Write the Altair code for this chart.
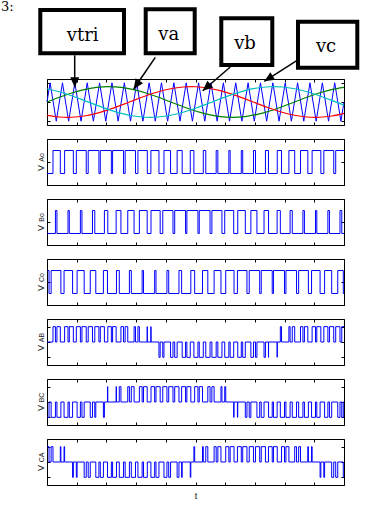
import altair as alt
import pandas as pd

# ---------------- data (time in carrier periods; window = 24 carrier periods = 20 ms) ----------------
T_MS = 20 / 24

# triangle carrier vertices
tri_t = [0, 0.25, 0.75, 1.25, 1.75, 2.25, 2.75, 3.25, 3.75, 4.25, 4.75, 5.25, 5.75, 6.25, 6.75,
         7.25, 7.75, 8.25, 8.75, 9.25, 9.75, 10.25, 10.75, 11.25, 11.75, 12.25, 12.75, 13.25, 13.75,
         14.25, 14.75, 15.25, 15.75, 16.25, 16.75, 17.25, 17.75, 18.25, 18.75, 19.25, 19.75, 20.25,
         20.75, 21.25, 21.75, 22.25, 22.75, 23.25, 23.75, 24]
tri_v = [0, 1, -1, 1, -1, 1, -1, 1, -1, 1, -1, 1, -1, 1, -1, 1, -1, 1, -1, 1, -1, 1, -1, 1, -1,
         1, -1, 1, -1, 1, -1, 1, -1, 1, -1, 1, -1, 1, -1, 1, -1, 1, -1, 1, -1, 1, -1, 1, -1, 0]

# reference sine samples
ref_t = [0, 1, 2, 3, 4, 5, 6, 7, 8, 9, 10, 11, 12, 13, 14, 15, 16, 17, 18, 19, 20, 21, 22, 23, 24]
va = [0, 0.247, 0.470, 0.647, 0.761, 0.8, 0.761, 0.647, 0.470, 0.247, 0, -0.247, -0.470, -0.647,
      -0.761, -0.8, -0.761, -0.647, -0.470, -0.247, 0, 0.247, 0.470, 0.647, 0.761]
vb = [-0.693, -0.782, -0.796, -0.731, -0.594, -0.4, -0.166, 0.084, 0.325, 0.535, 0.693, 0.782,
      0.796, 0.731, 0.594, 0.4, 0.166, -0.084, -0.325, -0.535, -0.693, -0.782, -0.796, -0.731, -0.594]
vc = [0.693, 0.535, 0.325, 0.084, -0.166, -0.4, -0.594, -0.731, -0.796, -0.782, -0.693, -0.535,
      -0.325, -0.084, 0.166, 0.4, 0.594, 0.731, 0.796, 0.782, 0.693, 0.535, 0.325, 0.084, -0.166]

# leg voltage low intervals (start / end)
A_low_start = [0.000, 1.077, 2.130, 3.171, 4.195, 5.200, 6.185, 7.152, 8.105, 9.047, 9.984, 10.924,
               11.870, 12.830, 13.806, 14.801, 15.815, 16.848, 17.896, 18.953, 20.016, 21.077, 22.130, 23.171]
A_low_end = [0.484, 1.424, 2.370, 3.330, 4.306, 5.301, 6.315, 7.348, 8.396, 9.453, 10.516, 11.577,
             12.630, 13.671, 14.695, 15.700, 16.685, 17.652, 18.605, 19.547, 20.484, 21.424, 22.370, 23.330]
B_low_start = [0.000, 0.802, 1.803, 2.824, 3.862, 4.914, 5.974, 7.037, 8.096, 9.145, 10.181, 11.198,
               12.197, 13.176, 14.138, 15.086, 16.026, 16.964, 17.905, 18.855, 19.820, 20.802, 21.803,
               22.824, 23.820]
B_low_end = [0.681, 1.698, 2.697, 3.676, 4.638, 5.586, 6.526, 7.464, 8.405, 9.355, 10.320, 11.302,
             12.303, 13.324, 14.362, 15.414, 16.474, 17.537, 18.596, 19.645, 20.681, 21.698, 22.697,
             23.676, 24.0]
C_low_start = [0.165, 1.122, 2.067, 3.005, 3.943, 4.887, 5.841, 6.812, 7.800, 8.808, 9.835, 10.878,
               11.933, 12.995, 14.057, 15.113, 16.159, 17.189, 18.200, 19.192, 20.165, 21.122, 22.067,
               23.005, 23.943]
C_low_end = [0.335, 1.378, 2.433, 3.495, 4.557, 5.613, 6.659, 7.689, 8.700, 9.692, 10.665, 11.622,
             12.567, 13.505, 14.443, 15.387, 16.341, 17.312, 18.300, 19.308, 20.335, 21.378, 22.433,
             23.495, 24.0]

panel_names = ["Ao", "Bo", "Co", "AB", "BC", "CA"]
ann_labels = ["vtri", "va", "vb", "vc"]

HIGH, LOW, TEND = 0.5, -0.5, 24.0
A = (A_low_start, A_low_end)
B = (B_low_start, B_low_end)
C = (C_low_start, C_low_end)


def level(leg, t):
    for s, e in zip(*leg):
        if s <= t < e:
            return LOW
    return HIGH


def edges(*legs):
    ts = {0.0}
    for leg in legs:
        for x in leg[0] + leg[1]:
            if 0 <= x < TEND:
                ts.add(float(x))
    return sorted(ts)


def steps(fn, *legs):
    ts = edges(*legs)
    rows = [(t, fn(t)) for t in ts]
    rows.append((TEND, rows[-1][1]))
    return pd.DataFrame({"t": [r[0] * T_MS for r in rows], "v": [r[1] for r in rows]})


df_A = steps(lambda t: level(A, t), A)
df_B = steps(lambda t: level(B, t), B)
df_C = steps(lambda t: level(C, t), C)
df_AB = steps(lambda t: level(A, t) - level(B, t), A, B)
df_BC = steps(lambda t: level(B, t) - level(C, t), B, C)
df_CA = steps(lambda t: level(C, t) - level(A, t), C, A)

df_tri = pd.DataFrame({"t": [x * T_MS for x in tri_t], "v": tri_v})
df_ref = pd.DataFrame({
    "t": [x * T_MS for x in ref_t] * 3,
    "v": va + vb + vc,
    "s": ["va"] * len(va) + ["vb"] * len(vb) + ["vc"] * len(vc),
})

# ---------------- styling ----------------
W, H = 297, 46
XDOM = [0, 20]
xticks = [0, 2, 4, 6, 8, 10, 12, 14, 16, 18, 20]
BLUE = "#0000ff"
SANS = "Liberation Sans"
SERIF = "DejaVu Serif"


def tick_axis(orient, values):
    return alt.Axis(orient=orient, values=values, labels=False, domain=False, grid=False,
                    ticks=True, tickSize=3, offset=-3, tickColor="black", tickWidth=1)


def xenc(orient, title=None):
    return alt.X("t:Q", scale=alt.Scale(domain=XDOM, nice=False, zero=False),
                 axis=tick_axis(orient, xticks), title=title)


def yenc(orient, ydom, yticks):
    return alt.Y("v:Q", scale=alt.Scale(domain=ydom, nice=False, zero=False),
                 axis=tick_axis(orient, yticks), title=None)


def ylabel(sub):
    v = alt.Chart(pd.DataFrame({"s": ["V"]})).mark_text(
        angle=270, fontSize=9, font=SANS, color="#222222").encode(
        x=alt.value(-6.5), y=alt.value(29), text="s:N")
    s = alt.Chart(pd.DataFrame({"s": [sub]})).mark_text(
        angle=270, fontSize=7, font=SANS, color="#222222").encode(
        x=alt.value(-5.0), y=alt.value(18.5), text="s:N")
    return [v, s]


def pwm_panel(df, ydom, yticks, sub, xtitle=None):
    line = alt.Chart(df).mark_line(interpolate="step-after", color=BLUE, strokeWidth=1).encode(
        x=xenc("bottom", xtitle), y=yenc("left", ydom, yticks))
    ghost = alt.Chart(df).mark_line(opacity=0).encode(
        x=xenc("top"), y=yenc("right", ydom, yticks))
    return alt.layer(line, ghost, *ylabel(sub)).resolve_scale(
        x="independent", y="independent").properties(width=W, height=H)


# ---------------- top panel with annotations ----------------
TOPDOM = [-1.2, 1.2]
tri_layer = alt.Chart(df_tri).mark_line(color=BLUE, strokeWidth=1).encode(
    x=xenc("bottom"), y=yenc("left", TOPDOM, [-1, 0, 1]))
ghost_top = alt.Chart(df_tri).mark_line(opacity=0).encode(
    x=xenc("top"), y=yenc("right", TOPDOM, [-1, 0, 1]))
ref_layer = alt.Chart(df_ref).mark_line(interpolate="natural", strokeWidth=1.2).encode(
    x=alt.X("t:Q", scale=alt.Scale(domain=XDOM, nice=False, zero=False), axis=None),
    y=alt.Y("v:Q", scale=alt.Scale(domain=TOPDOM, nice=False, zero=False), axis=None),
    color=alt.Color("s:N", scale=alt.Scale(domain=["va", "vb", "vc"],
                                           range=["#008000", "#ff0000", "#00bfbf"]), legend=None),
)

# annotation geometry (pixels relative to the top panel's plot origin)
ann = pd.DataFrame({
    "lab": ann_labels,
    "bx0": [-6.7, 98.7, 174.3, 251.0],
    "bx1": [77.0, 147.7, 225.3, 310.3],
    "by0": [-69.0, -69.7, -60.7, -57.3],
    "by1": [-25.7, -25.7, -14.0, -11.3],
    "tx": [35.7, 121.7, 198.0, 279.0],
    "ty": [-38.5, -39.5, -30.0, -27.0],
    "ax0": [27.7, 108.3, 183.3, 249.7],
    "ay0": [-23.7, -21.7, -12.0, -18.3],
    "ax1": [27.7, 86.7, 155.7, 217.3],
    "ay1": [8.3, 10.0, 11.7, 2.3],
    "ang": [0, 34.2, 49.3, 57.6],
})
px = lambda f: alt.X(f, scale=None, axis=None)
py = lambda f: alt.Y(f, scale=None, axis=None)
boxes = alt.Chart(ann).mark_rect(fill="white", stroke="black", strokeWidth=4).encode(
    x=px("bx0:Q"), x2="bx1:Q", y=py("by0:Q"), y2="by1:Q")
texts = alt.Chart(ann).mark_text(font=SERIF, fontSize=18, baseline="alphabetic", color="black").encode(
    x=px("tx:Q"), y=py("ty:Q"), text="lab:N")
shafts = alt.Chart(ann).mark_rule(color="black", strokeWidth=1.5).encode(
    x=px("ax0:Q"), y=py("ay0:Q"), x2="ax1:Q", y2="ay1:Q")
heads = alt.Chart(ann).mark_point(shape="M0,0 L-0.45,-1 L0.45,-1 Z", filled=True, size=400,
                                  color="black", opacity=1, strokeWidth=0).encode(
    x=px("ax1:Q"), y=py("ay1:Q"), angle=alt.Angle("ang:Q", scale=None))
fig_no = alt.Chart(pd.DataFrame({"s": ["3:"], "x": [-46], "y": [-67.7]})).mark_text(
    font=SERIF, fontSize=13, align="left", baseline="alphabetic", color="black").encode(
    x=px("x:Q"), y=py("y:Q"), text="s:N")

top = alt.layer(tri_layer, ref_layer, ghost_top, boxes, shafts, heads, texts, fig_no).resolve_scale(
    x="independent", y="independent").properties(width=W, height=H)

LEG = [-1, 1]
LINE = [-1.5, 1.5]
chart = alt.vconcat(
    top,
    pwm_panel(df_A, LEG, [-1, 0, 1], panel_names[0]),
    pwm_panel(df_B, LEG, [-1, 0, 1], panel_names[1]),
    pwm_panel(df_C, LEG, [-1, 0, 1], panel_names[2]),
    pwm_panel(df_AB, LINE, [-1, 0, 1], panel_names[3]),
    pwm_panel(df_BC, LINE, [-1, 0, 1], panel_names[4]),
    pwm_panel(df_CA, LINE, [-1, 0, 1], panel_names[5], xtitle="t"),
    spacing=12,
).properties(
    padding={"left": 0, "top": 0, "right": 0, "bottom": 0}
).configure_view(
    stroke="black", strokeWidth=1
).configure_axis(
    titleFont=SANS, titleFontSize=9, titleFontWeight="normal", titlePadding=6, titleColor="#222222"
)

chart.save("out.html", embed_options={"renderer": "svg", "actions": False})
